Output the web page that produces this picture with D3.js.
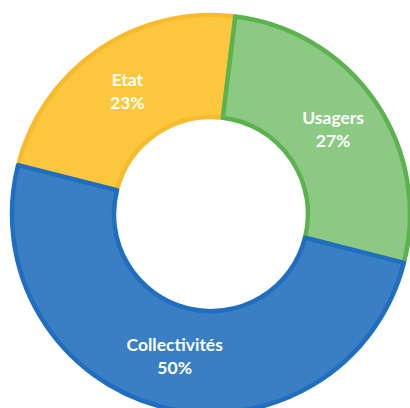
<!DOCTYPE html>
<html>
<head>
<meta charset="utf-8">
<script src="https://cdn.jsdelivr.net/npm/d3@7"></script>
<style>
  body { margin: 0; background: #fff; }
</style>
</head>
<body>
<script>
// parts of the budget, clockwise from the top
var categories = ["Usagers", "Collectivités", "Etat"];
var values = [27, 50, 23];
var labels = ["27%", "50%", "23%"];

var width = 410, height = 408;
var cx = 211, cy = 214;
var outer = 199, inner = 97;

var fills = ["#8cc983", "#3a7fc4", "#fcc73f"];
var strokes = ["#5cb24e", "#1f6ebf", "#f8bb2c"];
// which slice is painted last (its border sits on top)
var drawOrder = [1, 2, 0];

var data = categories.map((c, i) => ({ cat: c, value: values[i], label: labels[i], i: i }));

let svg = d3.select("body").append("svg")
    .attr("width", width)
    .attr("height", height);

var start = 7 * Math.PI / 180;
var pie = d3.pie()
    .sort(null)
    .value(d => d.value)
    .startAngle(start)
    .endAngle(start + 2 * Math.PI);

var arc = d3.arc()
    .innerRadius(inner)
    .outerRadius(outer);

var g = svg.append("g")
    .attr("transform", `translate(${cx},${cy})`);

var slices = pie(data);

g.selectAll("path")
    .data(slices.slice().sort((a, b) => drawOrder[a.data.i] - drawOrder[b.data.i]))
    .enter()
    .append("path")
    .attr("d", arc)
    .attr("fill", d => fills[d.data.i])
    .attr("stroke", d => strokes[d.data.i])
    .attr("stroke-width", 4.5)
    .attr("stroke-linejoin", "round");

var lab = g.selectAll("text")
    .data(slices)
    .enter()
    .append("text")
    .attr("transform", d => `translate(${arc.centroid(d)})`)
    .attr("text-anchor", "middle")
    .attr("fill", "#fff")
    .style("font-family", "Lato, 'Open Sans', sans-serif")
    .style("font-weight", "bold")
    .style("font-size", "17.5px");

lab.append("tspan")
    .attr("x", 0)
    .attr("y", -6)
    .text(d => d.data.cat);

lab.append("tspan")
    .attr("x", 0)
    .attr("y", 17)
    .text(d => d.data.label);
</script>
</body>
</html>
